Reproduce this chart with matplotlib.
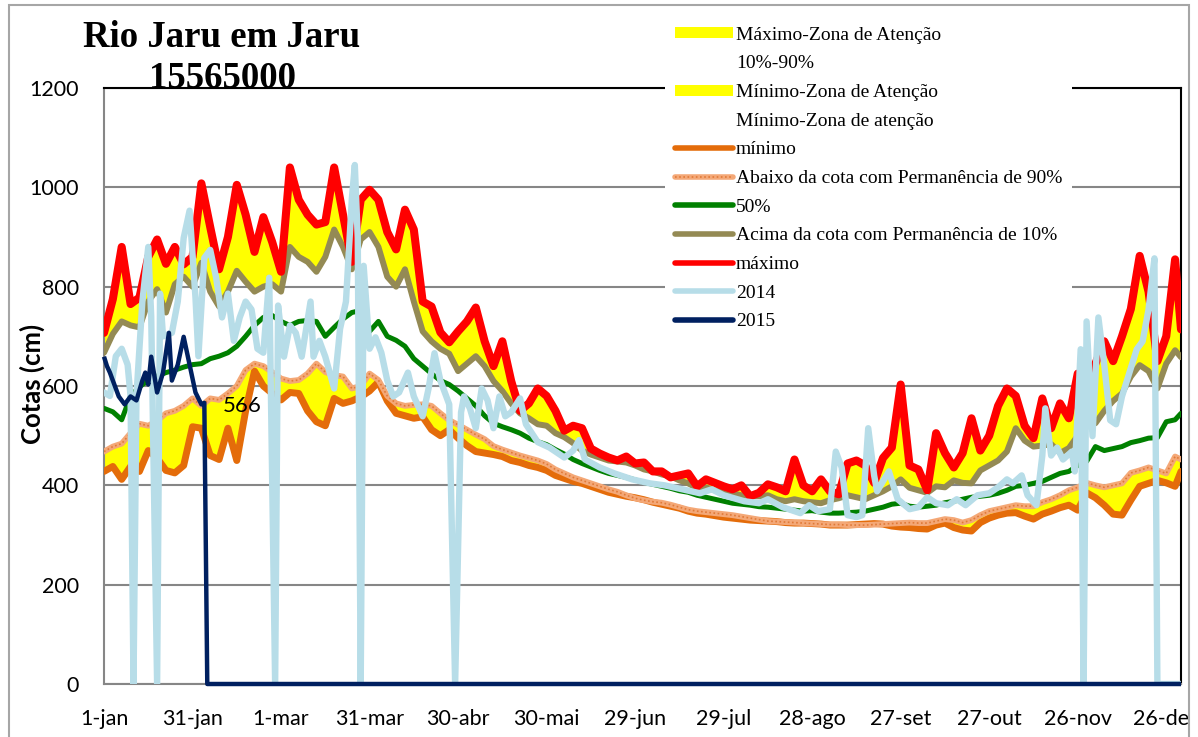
import matplotlib
matplotlib.use('Agg')
import matplotlib.pyplot as plt
from matplotlib.lines import Line2D
from matplotlib.patches import Patch, Rectangle
from matplotlib.legend_handler import HandlerTuple

# dias do ano (indice 0 = 1-jan), passo de 3 dias
days = list(range(0, 364, 3)) + [365]

maximo = [707, 775, 880, 765, 778, 860, 895, 846, 880, 845,
          860, 1008, 920, 835, 900, 1005, 945, 870, 940, 890,
          830, 1040, 975, 945, 925, 930, 1040, 945, 850, 975,
          995, 975, 910, 875, 955, 915, 770, 760, 708, 688,
          710, 730, 758, 690, 640, 690, 610, 550, 565, 595,
          580, 550, 510, 520, 515, 474, 464, 456, 450, 458,
          444, 446, 428, 428, 416, 420, 424, 398, 412, 405,
          398, 392, 400, 378, 385, 402, 396, 388, 452, 400,
          388, 412, 388, 382, 444, 450, 440, 405, 455, 476,
          603, 440, 432, 390, 505, 465, 436, 465, 535, 470,
          500, 560, 595, 580, 520, 495, 575, 515, 565, 535,
          625, 590, 645, 690, 650, 700, 755, 862, 790, 650,
          700, 855, 714]

p10 = [667, 705, 730, 722, 718, 770, 795, 748, 805, 820,
       800, 848, 790, 760, 790, 832, 810, 790, 800, 805,
       790, 880, 860, 850, 830, 860, 915, 880, 835, 895,
       910, 880, 820, 800, 835, 770, 710, 690, 675, 665,
       630, 645, 660, 640, 610, 590, 565, 545, 535, 523,
       520, 505, 497, 485, 470, 462, 456, 450, 448, 446,
       440, 432, 428, 422, 418, 410, 404, 394, 396, 390,
       388, 384, 380, 378, 378, 380, 372, 368, 372, 368,
       366, 364, 370, 374, 380, 376, 372, 380, 388, 398,
       412, 395, 390, 385, 398, 396, 410, 405, 404, 430,
       440, 450, 468, 515, 490, 478, 480, 483, 465, 475,
       500, 539, 525, 550, 570, 585, 619, 642, 630, 595,
       645, 672, 658]

p50 = [555, 548, 532, 580, 598, 612, 620, 627, 632, 638,
       643, 645, 655, 660, 667, 680, 700, 722, 738, 742,
       730, 722, 730, 732, 730, 700, 718, 735, 748, 752,
       710, 730, 700, 692, 680, 655, 640, 625, 611, 603,
       590, 575, 560, 540, 525, 518, 512, 505, 495, 488,
       482, 472, 463, 452, 444, 437, 430, 424, 420, 416,
       411, 406, 402, 398, 394, 389, 386, 380, 376, 372,
       368, 364, 362, 360, 357, 356, 354, 352, 350, 348,
       349, 346, 344, 344, 345, 346, 348, 352, 356, 362,
       364, 358, 356, 358, 360, 365, 368, 372, 376, 378,
       380, 384, 390, 398, 400, 404, 408, 416, 424, 428,
       440, 448, 478, 470, 474, 478, 486, 490, 495, 496,
       528, 532, 545]

p90 = [468, 478, 484, 505, 524, 520, 530, 545, 550, 560,
       575, 560, 575, 572, 585, 600, 632, 645, 640, 628,
       615, 610, 612, 625, 645, 628, 622, 619, 595, 600,
       625, 612, 580, 565, 560, 562, 563, 560, 545, 531,
       522, 512, 502, 493, 479, 472, 466, 460, 455, 450,
       443, 432, 424, 416, 410, 404, 398, 392, 387, 380,
       374, 370, 367, 365, 361, 356, 351, 348, 346, 344,
       342, 340, 337, 334, 331, 328, 327, 326, 325, 324,
       323, 322, 321, 321, 320, 320, 320, 321, 322, 323,
       324, 325, 324, 324, 328, 332, 330, 325, 330, 340,
       348, 352, 356, 360, 358, 358, 366, 372, 380, 390,
       396, 405, 400, 396, 400, 404, 425, 430, 436, 430,
       424, 458, 452]

minimo = [428, 438, 412, 438, 428, 470, 455, 430, 425, 440,
          518, 515, 460, 452, 515, 450, 550, 630, 600, 585,
          572, 587, 585, 550, 528, 520, 575, 565, 570, 578,
          590, 608, 570, 545, 540, 535, 538, 512, 500, 512,
          495, 480, 468, 465, 462, 458, 450, 446, 440, 436,
          430, 420, 414, 408, 404, 398, 392, 386, 382, 378,
          375, 371, 366, 362, 358, 354, 348, 344, 342, 339,
          336, 334, 332, 330, 329, 328, 327, 325, 324, 324,
          323, 322, 320, 320, 320, 321, 322, 323, 322, 318,
          316, 315, 313, 312, 320, 324, 315, 310, 308, 325,
          334, 340, 344, 345, 338, 332, 342, 348, 355, 360,
          350, 385, 375, 360, 342, 340, 370, 398, 404, 410,
          405, 398, 428]

# 2014 (zeros = falhas de leitura)
dias2014 = [0, 2, 4, 6, 8, 9, 10, 11, 13, 15, 16, 18, 19, 20, 23, 25, 27, 29, 31, 32,
            34, 36, 38, 40, 42, 44, 46, 48, 50, 52, 54, 56, 58, 59, 61, 63, 65, 67, 70, 71,
            73, 75, 78, 80, 82, 84, 85, 86, 87, 88, 90, 92, 94, 96, 98, 100, 103, 105, 108, 110,
            112, 114, 117, 119, 121, 122, 124, 126, 128, 130, 132, 134, 136, 138, 141, 143, 147, 151, 156, 159,
            161, 163, 168, 173, 179, 185, 190, 196, 202, 206, 210, 217, 222, 225, 230, 236, 239, 242, 246, 248,
            250, 252, 255, 257, 259, 261, 262, 266, 269, 273, 276, 279, 282, 286, 289, 292, 296, 300, 303, 306,
            308, 311, 313, 316, 318, 319, 321, 323, 325, 328, 329, 331, 332, 333, 335, 337, 339, 341, 343, 345,
            350, 352, 354, 356, 357, 365]
cota2014 = [587, 580, 660, 675, 643, 580, 0, 580, 770, 880, 740, 0, 786, 700, 707, 770, 898, 953, 778, 660,
            858, 874, 818, 738, 786, 691, 738, 770, 754, 675, 667, 818, 0, 762, 659, 722, 707, 659, 770, 659,
            691, 659, 595, 715, 770, 977, 1045, 898, 0, 842, 675, 698, 667, 611, 579, 587, 627, 579, 539, 595,
            666, 611, 563, 0, 547, 579, 555, 515, 595, 571, 515, 579, 539, 547, 575, 523, 487, 476, 456, 470,
            491, 452, 436, 424, 412, 404, 400, 392, 384, 392, 380, 368, 364, 372, 356, 344, 360, 348, 352, 468,
            436, 340, 336, 340, 515, 420, 388, 428, 372, 352, 356, 376, 364, 360, 372, 360, 380, 384, 396, 412,
            404, 420, 380, 360, 460, 555, 460, 476, 452, 468, 428, 674, 0, 730, 499, 738, 642, 531, 523, 579,
            674, 690, 754, 857, 0, 0]

dias2015 = [0, 1, 2, 3, 5, 7, 9, 11, 13, 14, 15, 16, 18, 20, 22, 23, 25, 27, 29, 31, 33, 34, 35, 365]
cota2015 = [659, 640, 627, 611, 579, 563, 579, 571, 611, 627, 603, 659, 587, 627, 707, 611, 643, 699, 643, 587,
            563, 566, 0, 0]

xticks = list(range(0, 361, 30))
xlabels = ['1-jan', '31-jan', '1-mar', '31-mar', '30-abr', '30-mai', '29-jun',
           '29-jul', '28-ago', '27-set', '27-out', '26-nov', '26-dez']

W, H = 1198, 737
fig = plt.figure(figsize=(W / 100, H / 100), dpi=100)
ax = fig.add_axes([104 / W, 1 - 684 / H, (1181 - 104) / W, (684 - 88) / H])

amarelo = '#FFFF00'
ax.fill_between(days, p10, maximo, color=amarelo, lw=0, zorder=1)
ax.fill_between(days, minimo, p90, color=amarelo, lw=0, zorder=1)

kw = dict(solid_joinstyle='round', solid_capstyle='round')
ax.plot(days, minimo, color='#E46C0A', lw=5.0, zorder=3, **kw)
ax.plot(days, p90, color='#F4A877', lw=4.2, zorder=3.1, **kw)
ax.plot(days, p90, color='#E07A38', lw=1.2, ls=(0, (1, 1.5)), zorder=3.2)
ax.plot(days, p50, color='#008000', lw=3.6, zorder=3.3, **kw)
ax.plot(days, p10, color='#948A54', lw=4.3, zorder=3.4, **kw)
ax.plot(days, maximo, color='#FF0000', lw=5.8, zorder=3.5, **kw)
ax.plot(dias2014, cota2014, color='#B7DDE8', lw=4.6, zorder=3.6, **kw)
ax.plot(dias2015, cota2015, color='#002060', lw=3.2, zorder=3.7, clip_on=False,
        solid_joinstyle='round', solid_capstyle='butt')

ax.annotate('566', xy=(dias2015[-3], cota2015[-3]), xytext=(13, -2), textcoords='offset points',
            ha='left', va='center', fontsize=16, family='Lato', zorder=5)

ax.set_xlim(0, 365)
ax.set_ylim(0, 1200)
ax.set_yticks(range(0, 1201, 200))
ax.set_xticks(xticks)
ax.set_xticklabels(xlabels)
ax.yaxis.grid(True, color='#868686', lw=1.5)
ax.set_axisbelow(True)
ax.tick_params(axis='both', length=0, labelsize=15.5)
ax.tick_params(axis='y', pad=18)
ax.tick_params(axis='x', pad=18)
for lab in ax.get_xticklabels() + ax.get_yticklabels():
    lab.set_family('Lato')

for s in ['left', 'bottom']:
    ax.spines[s].set_color('#868686')
    ax.spines[s].set_linewidth(1.5)
for s in ['top', 'right']:
    ax.spines[s].set_color('black')
    ax.spines[s].set_linewidth(1.5)

# titulo e eixo
fig.text(222 / W, 1 - 47 / H, 'Rio Jaru em Jaru', ha='center', va='baseline',
         family='Liberation Serif', weight='bold', fontsize=26.5)
fig.text(223 / W, 1 - 88 / H, '15565000', ha='center', va='baseline',
         family='Liberation Serif', weight='bold', fontsize=26.5, zorder=6)
fig.text(32 / W, 1 - 384 / H, 'Cotas (cm)', rotation=90, ha='center', va='center',
         family='Lato', weight='bold', fontsize=18.5)

# legenda
vazio = Patch(facecolor='none', edgecolor='none')
handles = [Patch(facecolor=amarelo, edgecolor='none'), vazio,
           Patch(facecolor=amarelo, edgecolor='none'), vazio,
           Line2D([], [], color='#E46C0A', lw=4, solid_capstyle='round'),
           (Line2D([], [], color='#F4A877', lw=4, solid_capstyle='round'),
            Line2D([], [], color='#E07A38', lw=1.2, ls=(0, (1, 1.5)))),
           Line2D([], [], color='#008000', lw=4, solid_capstyle='round'),
           Line2D([], [], color='#948A54', lw=4, solid_capstyle='round'),
           Line2D([], [], color='#FF0000', lw=4, solid_capstyle='round'),
           Line2D([], [], color='#B7DDE8', lw=4, solid_capstyle='round'),
           Line2D([], [], color='#002060', lw=4, solid_capstyle='round')]
labels = ['Máximo-Zona de Atenção', '10%-90%', 'Mínimo-Zona de Atenção', 'Mínimo-Zona de atenção',
          'mínimo', 'Abaixo da cota com Permanência de 90%', '50%',
          'Acima da cota com Permanência de 10%', 'máximo', '2014', '2015']
leg = fig.legend(handles, labels, loc='upper left', bbox_to_anchor=(665 / W, 1 - 17 / H),
                 frameon=True, facecolor='white', edgecolor='none', framealpha=1, fancybox=False,
                 prop={'family': 'Liberation Serif', 'size': 14}, handlelength=3.0,
                 handleheight=0.5, handletextpad=0.15, labelspacing=0.6, borderpad=0.5,
                 borderaxespad=0, handler_map={tuple: HandlerTuple(ndivide=1, pad=0)})
leg.set_zorder(7)

# moldura do grafico
fig.patches.append(Rectangle((1190 / W, 0), 8 / W, 1, transform=fig.transFigure,
                             facecolor='white', edgecolor='none', zorder=9))
fig.patches.append(Rectangle((9 / W, -0.05), (1189 - 9) / W, 1.05 - 5 / H, transform=fig.transFigure,
                             fill=False, edgecolor='#A6A6A6', lw=1.5, zorder=10))

fig.savefig('out.png', dpi=100)
